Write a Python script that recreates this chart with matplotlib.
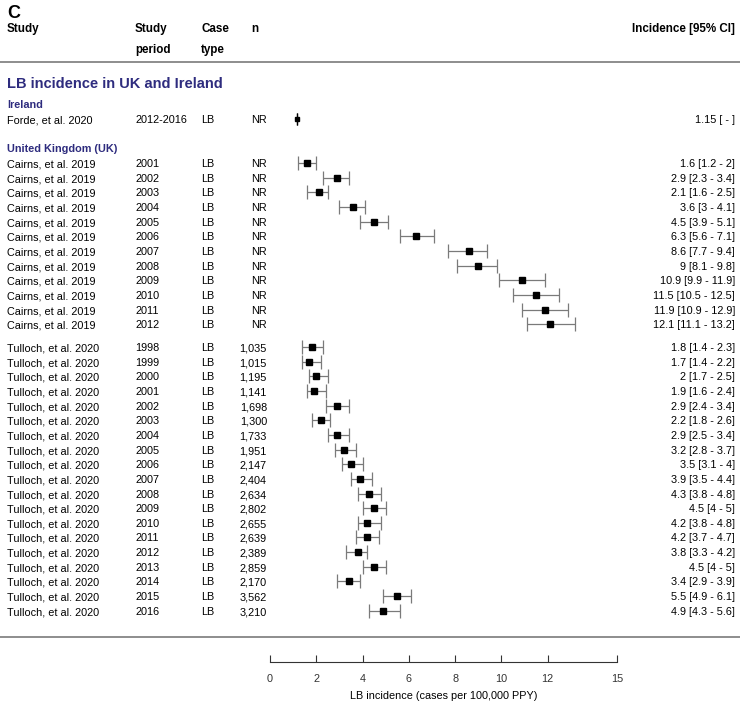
import matplotlib
matplotlib.use("Agg")
import matplotlib.pyplot as plt
import matplotlib.transforms as mtransforms

plt.rcParams["font.family"] = ["Liberation Sans", "DejaVu Sans"]

NAVY = "#2e2c7e"
GREY = "#7a7a7a"

# Ireland
forde_study = "Forde, et al. 2020"
forde_period = "2012-2016"
forde_est = 1.15
forde_label = "1.15 [ - ]"

# United Kingdom: Cairns et al. 2019
cairns_years = ["2001", "2002", "2003", "2004", "2005", "2006",
                "2007", "2008", "2009", "2010", "2011", "2012"]
cairns_est = [1.6, 2.9, 2.1, 3.6, 4.5, 6.3, 8.6, 9, 10.9, 11.5, 11.9, 12.1]
cairns_lo = [1.2, 2.3, 1.6, 3, 3.9, 5.6, 7.7, 8.1, 9.9, 10.5, 10.9, 11.1]
cairns_hi = [2, 3.4, 2.5, 4.1, 5.1, 7.1, 9.4, 9.8, 11.9, 12.5, 12.9, 13.2]

# United Kingdom: Tulloch et al. 2020
tulloch_years = [str(y) for y in range(1998, 2017)]
tulloch_n = ["1,035", "1,015", "1,195", "1,141", "1,698", "1,300", "1,733",
             "1,951", "2,147", "2,404", "2,634", "2,802", "2,655", "2,639",
             "2,389", "2,859", "2,170", "3,562", "3,210"]
tulloch_est = [1.8, 1.7, 2, 1.9, 2.9, 2.2, 2.9, 3.2, 3.5, 3.9, 4.3, 4.5,
               4.2, 4.2, 3.8, 4.5, 3.4, 5.5, 4.9]
tulloch_lo = [1.4, 1.4, 1.7, 1.6, 2.4, 1.8, 2.5, 2.8, 3.1, 3.5, 3.8, 4,
              3.8, 3.7, 3.3, 4, 2.9, 4.9, 4.3]
tulloch_hi = [2.3, 2.2, 2.5, 2.4, 3.4, 2.6, 3.4, 3.7, 4, 4.4, 4.8, 5,
              4.8, 4.7, 4.2, 5, 3.9, 6.1, 5.6]

x_ticks = [0, 2, 4, 6, 8, 10, 12, 15]


def fmt(v):
    return f"{v:g}"


W, H = 740, 704
fig = plt.figure(figsize=(W / 100, H / 100), dpi=100)

# forest plot axes: x 0..15 maps to px 270..617, y in pixel rows (top = 0)
ax_bottom = 662
ax = fig.add_axes([270 / W, (H - ax_bottom) / H, 347 / W, ax_bottom / H])
ax.set_xlim(0, 15)
ax.set_ylim(ax_bottom, 0)
for s in ["top", "right", "left"]:
    ax.spines[s].set_visible(False)
ax.spines["bottom"].set_color("#333333")
ax.spines["bottom"].set_linewidth(0.8)
ax.set_yticks([])
ax.set_xticks(x_ticks)
ax.set_xticklabels([str(t) for t in x_ticks])
ax.tick_params(axis="x", direction="in", length=5, width=0.8, colors="#333333",
               labelsize=7.8, pad=9)
ax.set_xlabel("LB incidence (cases per 100,000 PPY)", fontsize=7.8, labelpad=5)

tr = mtransforms.blended_transform_factory(fig.transFigure, ax.transData)


def col(xpx):
    return xpx / W


FS = 7.8
HFS = 8.4
VA = "baseline"
BL = 4.25  # baseline offset below the row centre (off the pixel-rounding edge)


def row_text(y, study, period, ctype, n, label):
    yb = y + BL
    ax.text(col(7), yb, study, transform=tr, fontsize=FS, va=VA)
    ax.text(col(135), yb, period, transform=tr, fontsize=FS, va=VA)
    ax.text(col(201), yb, ctype, transform=tr, fontsize=FS, va=VA)
    ax.text(col(267), yb, n, transform=tr, fontsize=FS, va=VA, ha="right")
    ax.text(col(735), yb, label, transform=tr, fontsize=FS, va=VA, ha="right")


def ci(y, est, lo, hi):
    ax.errorbar(est, y, xerr=[[est - lo], [hi - est]], fmt="s", color="black",
                ecolor=GREY, elinewidth=0.9, capsize=5, capthick=0.9,
                markersize=4, clip_on=False)


# header
fig.text(col(7), 1 - 13 / H, "C", fontsize=13, fontweight="bold", va="center")
hdr = dict(transform=tr, fontsize=HFS, fontweight="bold", va=VA)
ax.text(col(7), 28 + BL, "Study", **hdr)
ax.text(col(135), 28 + BL, "Study", **hdr)
ax.text(col(135), 49 + BL, "period", **hdr)
ax.text(col(201), 28 + BL, "Case", **hdr)
ax.text(col(201), 49 + BL, "type", **hdr)
ax.text(col(251), 28 + BL, "n", **hdr)
ax.text(col(735), 28 + BL, "Incidence [95% CI]", ha="right", **hdr)

for yl in (62, 637):
    ax.plot([0, 1], [yl, yl], transform=tr, color=GREY, lw=1.2, clip_on=False)

ax.text(col(7), 83 + 5, "LB incidence in UK and Ireland", transform=tr, fontsize=10.5,
        fontweight="bold", color=NAVY, va=VA)
ax.text(col(7), 104 + BL, "Ireland", transform=tr, fontsize=FS, fontweight="bold",
        color=NAVY, va=VA)
ax.text(col(7), 148 + BL, "United Kingdom (UK)", transform=tr, fontsize=FS,
        fontweight="bold", color=NAVY, va=VA)

# Forde
y0 = 119
row_text(y0, forde_study, forde_period, "LB", "NR", forde_label)
ax.errorbar(forde_est, y0, xerr=[[0], [0]], fmt="s", color="black", ecolor="black",
            capsize=4, capthick=0.9, markersize=3.5, clip_on=False)

# Cairns
step = 14.65
for i, yr in enumerate(cairns_years):
    y = round(163 + i * step)
    lab = f"{fmt(cairns_est[i])} [{fmt(cairns_lo[i])} - {fmt(cairns_hi[i])}]"
    row_text(y, "Cairns, et al. 2019", yr, "LB", "NR", lab)
    ci(y, cairns_est[i], cairns_lo[i], cairns_hi[i])

# Tulloch
for i, yr in enumerate(tulloch_years):
    y = round(347 + i * step)
    lab = f"{fmt(tulloch_est[i])} [{fmt(tulloch_lo[i])} - {fmt(tulloch_hi[i])}]"
    row_text(y, "Tulloch, et al. 2020", yr, "LB", tulloch_n[i], lab)
    ci(y, tulloch_est[i], tulloch_lo[i], tulloch_hi[i])

fig.savefig("out.png", dpi=100)
